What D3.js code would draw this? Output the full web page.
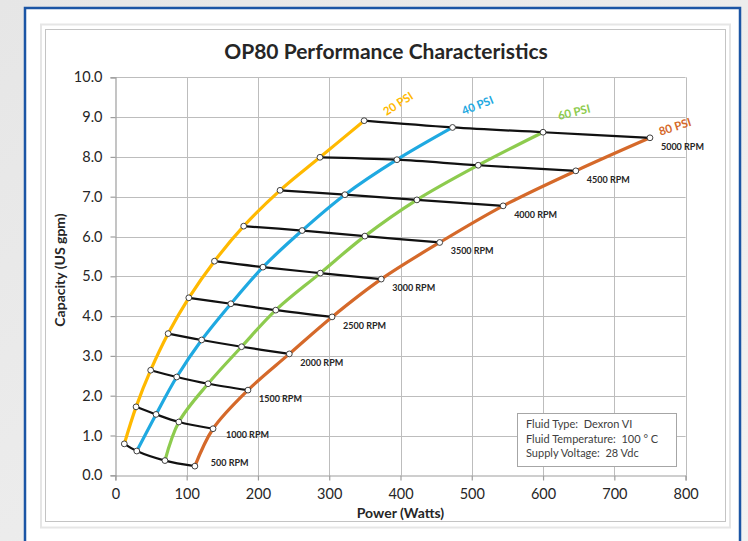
<!DOCTYPE html>
<html>
<head>
<meta charset="utf-8">
<script src="https://cdn.jsdelivr.net/npm/d3@7"></script>
<style>
  html, body { margin: 0; padding: 0; }
  body { width: 748px; height: 541px; overflow: hidden; }
  svg { display: block; }
</style>
</head>
<body>
<svg id="chart" width="748" height="541"></svg>
<script>
// ---------- DATA ----------
const rpmSpeeds = [500, 1000, 1500, 2000, 2500, 3000, 3500, 4000, 4500, 5000];
const rpmLabels = ["500 RPM", "1000 RPM", "1500 RPM", "2000 RPM", "2500 RPM", "3000 RPM", "3500 RPM", "4000 RPM", "4500 RPM", "5000 RPM"];
const pressureLabels = ["20 PSI", "40 PSI", "60 PSI", "80 PSI"];

const power20 = [12.5, 29, 49.5, 74, 103, 139, 180, 231, 287, 349];
const capacity20 = [0.79, 1.72, 2.64, 3.56, 4.46, 5.38, 6.26, 7.16, 7.99, 8.91];
const power40 = [30, 57, 86, 121, 162, 207, 262, 322, 395, 473];
const capacity40 = [0.61, 1.53, 2.47, 3.40, 4.31, 5.23, 6.15, 7.05, 7.93, 8.74];
const power60 = [69.5, 89, 130, 177, 225, 287.5, 350, 423, 509, 600];
const capacity60 = [0.37, 1.34, 2.30, 3.23, 4.15, 5.08, 6.01, 6.92, 7.79, 8.62];
const power80 = [111.5, 137, 186, 244, 304, 373, 455, 544, 646, 750];
const capacity80 = [0.23, 1.17, 2.14, 3.05, 3.98, 4.93, 5.85, 6.77, 7.65, 8.48];

const xTicks = [0, 100, 200, 300, 400, 500, 600, 700, 800];
const yTicks = [0, 1, 2, 3, 4, 5, 6, 7, 8, 9, 10];
const infoLines = ["Fluid Type:  Dexron VI", "Fluid Temperature:  100 ° C", "Supply Voltage:  28 Vdc"];
const titleText = "OP80 Performance Characteristics";
const xTitle = "Power (Watts)";
const yTitle = "Capacity (US gpm)";

// ---------- build series ----------
const powers = [power20, power40, power60, power80];
const caps = [capacity20, capacity40, capacity60, capacity80];
const pressureSeries = pressureLabels.map((name, i) =>
  rpmSpeeds.map((r, j) => ({ p: powers[i][j], c: caps[i][j] })));
const rpmSeries = rpmSpeeds.map((r, j) =>
  pressureLabels.map((n, i) => ({ p: powers[i][j], c: caps[i][j] })));

const colors = ["#FFB900", "#1FA9E1", "#8DCB4E", "#D5692A"];
const FONT = "Lato, 'Open Sans', sans-serif";

const svg = d3.select("#chart");

// ---------- frame ----------
const defs = svg.append("defs");
const grad = defs.append("linearGradient").attr("id", "bg").attr("x1", 0).attr("y1", 0).attr("x2", 1).attr("y2", 1);
grad.append("stop").attr("offset", "0%").attr("stop-color", "#e6e6e6");
grad.append("stop").attr("offset", "100%").attr("stop-color", "#f2f2f2");
svg.append("rect").attr("width", 748).attr("height", 541).attr("fill", "url(#bg)");
svg.append("rect").attr("x", 25).attr("y", 8).attr("width", 715).attr("height", 545)
  .attr("fill", "#ffffff").attr("stroke", "#1B55A5").attr("stroke-width", 2.5);
svg.append("rect").attr("x", 41).attr("y", 24.5).attr("width", 689).attr("height", 503)
  .attr("fill", "none").attr("stroke", "#e6e6e6").attr("stroke-width", 2);
svg.append("rect").attr("x", 45.5).attr("y", 29.5).attr("width", 680).attr("height", 492)
  .attr("fill", "#ffffff").attr("stroke", "#c4c4c4").attr("stroke-width", 1);

// ---------- scales ----------
const x = d3.scaleLinear().domain([0, 800]).range([115.4, 685.6]);
const y = d3.scaleLinear().domain([0, 10]).range([475.3, 77.3]);

// ---------- grid ----------
const grid = svg.append("g");
grid.selectAll(".gx").data(xTicks.slice(1)).join("line")
  .attr("x1", d => Math.round(x(d)) + 0.5).attr("x2", d => Math.round(x(d)) + 0.5)
  .attr("y1", y(10)).attr("y2", y(0))
  .attr("stroke", "#bdbdbd").attr("stroke-width", 1);
grid.selectAll(".gy").data(yTicks.slice(1)).join("line")
  .attr("x1", x(0)).attr("x2", x(800))
  .attr("y1", d => Math.round(y(d)) + 0.5).attr("y2", d => Math.round(y(d)) + 0.5)
  .attr("stroke", "#bdbdbd").attr("stroke-width", 1);

// ---------- axes ----------
const xAxis = svg.append("g").attr("transform", `translate(0,${Math.round(y(0)) + 0.5})`)
  .call(d3.axisBottom(x).tickValues(xTicks).tickSize(5).tickPadding(8).tickFormat(d3.format("d")));
const yAxis = svg.append("g").attr("transform", `translate(${Math.round(x(0)) + 0.5},0)`)
  .call(d3.axisLeft(y).tickValues(yTicks).tickSize(5).tickPadding(8).tickFormat(d3.format(".1f")));
[xAxis, yAxis].forEach(a => {
  a.select(".domain").attr("stroke", "#9e9e9e").attr("stroke-width", 1.2);
  a.selectAll(".tick line").attr("stroke", "#9e9e9e").attr("stroke-width", 1.2);
  a.selectAll("text").attr("fill", "#262626").style("font-family", FONT).style("font-size", "14.5px");
});

// ---------- titles ----------
svg.append("text").attr("x", 386).attr("y", 59).attr("text-anchor", "middle")
  .style("font-family", FONT).style("font-size", "21px").style("font-weight", "bold")
  .attr("fill", "#262626").text(titleText);
svg.append("text").attr("x", 400.5).attr("y", 518).attr("text-anchor", "middle")
  .style("font-family", FONT).style("font-size", "14px").style("font-weight", "bold")
  .attr("fill", "#262626").text(xTitle);
svg.append("text").attr("transform", "translate(65,270) rotate(-90)").attr("text-anchor", "middle")
  .style("font-family", FONT).style("font-size", "14px").style("font-weight", "bold")
  .attr("fill", "#262626").text(yTitle);

// ---------- curves ----------
const line = d3.line().x(d => x(d.p)).y(d => y(d.c)).curve(d3.curveCatmullRom.alpha(0.5));

svg.append("g").selectAll("path").data(pressureSeries).join("path")
  .attr("d", line).attr("fill", "none")
  .attr("stroke", (d, i) => colors[i]).attr("stroke-width", 3.2)
  .attr("stroke-linecap", "round");

svg.append("g").selectAll("path").data(rpmSeries).join("path")
  .attr("d", line).attr("fill", "none")
  .attr("stroke", "#111111").attr("stroke-width", 2.2);

// markers
svg.append("g").selectAll("circle").data(rpmSeries.flat()).join("circle")
  .attr("cx", d => x(d.p)).attr("cy", d => y(d.c)).attr("r", 2.9)
  .attr("fill", "#ffffff").attr("stroke", "#404040").attr("stroke-width", 1);

// ---------- RPM labels ----------
svg.append("g").selectAll("text").data(rpmSeries).join("text")
  .attr("x", (d, j) => x(d[3].p) + (j === 0 ? 16 : j === 1 ? 13 : 11))
  .attr("y", (d, j) => y(d[3].c) + (j === 0 ? 0 : j === 1 ? 9 : 12))
  .style("font-family", FONT).style("font-size", "9px").style("font-weight", "bold")
  .attr("fill", "#262626")
  .text((d, j) => rpmLabels[j]);

// ---------- pressure labels ----------
const psiPlacement = [
  { dx: 34, dy: -17, rot: -33 },
  { dx: 25, dy: -22, rot: -22 },
  { dx: 31, dy: -20, rot: -14 },
  { dx: 25, dy: -11, rot: -18 }
];
svg.append("g").selectAll("text").data(pressureSeries).join("text")
  .attr("transform", (d, i) => {
    const last = d[d.length - 1];
    return `translate(${x(last.p) + psiPlacement[i].dx},${y(last.c) + psiPlacement[i].dy}) rotate(${psiPlacement[i].rot})`;
  })
  .attr("text-anchor", "middle").attr("dy", "0.35em")
  .style("font-family", FONT).style("font-size", "11.5px").style("font-weight", "bold")
  .attr("fill", (d, i) => colors[i])
  .text((d, i) => pressureLabels[i]);

// ---------- info box ----------
const box = svg.append("g");
box.append("rect").attr("x", 517.5).attr("y", 413.5).attr("width", 159).attr("height", 53)
  .attr("fill", "#ffffff").attr("stroke", "#a6a6a6").attr("stroke-width", 1);
box.selectAll("text").data(infoLines).join("text")
  .attr("x", 526).attr("y", (d, i) => 428 + i * 14.5)
  .style("font-family", FONT).style("font-size", "11px")
  .attr("fill", "#404040")
  .attr("xml:space", "preserve").style("white-space", "pre")
  .text(d => d);
</script>
</body>
</html>
